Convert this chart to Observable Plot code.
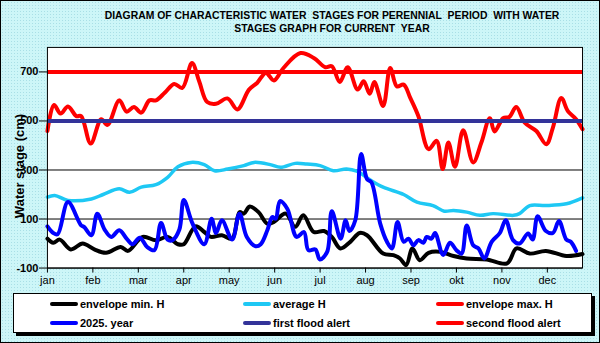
<!DOCTYPE html>
<html>
<head>
<meta charset="utf-8">
<script src="https://cdn.jsdelivr.net/npm/d3@7"></script>
<script src="https://cdn.jsdelivr.net/npm/@observablehq/plot@0.6"></script>
<style>
  html, body { margin: 0; padding: 0; }
  body { width: 600px; height: 343px; overflow: hidden; }
  #wrap {
    position: relative; width: 600px; height: 343px; box-sizing: border-box;
    border: 1px solid #000;
    background-color: #cdf6f8;
    background-image: radial-gradient(#a9dfe6 0.6px, transparent 0.8px);
    background-size: 3px 3px;
    font-family: "Liberation Sans", Arial, sans-serif;
    overflow: hidden;
  }
  #chart { position: absolute; left: -1px; top: -1px; }
  .title {
    position: absolute; left: 31px; width: 600px; text-align: center;
    font-weight: bold; font-size: 10.4px; white-space: pre; color: #000;
  }
  #ylabel {
    position: absolute; left: 18px; top: 165px; transform: translate(-50%, -50%) rotate(-90deg);
    font-weight: bold; font-size: 13px; white-space: nowrap;
  }
  #legend {
    position: absolute; left: 12px; top: 292px; width: 579px; height: 40px; box-sizing: border-box;
    background: #fff; border: 1px solid #000; box-shadow: 3px 3px 0 #000;
  }
  .item { position: absolute; display: flex; align-items: center; font-size: 11px; font-weight: bold; white-space: nowrap; }
  .sw { width: 28px; height: 4px; border-radius: 2px; margin-right: 2px; }
</style>
</head>
<body>
<div id="wrap">
  <div id="chart"></div>
  <div class="title" style="top:9px">DIAGRAM OF CHARACTERISTIC WATER  STAGES FOR PERENNIAL  PERIOD  WITH WATER</div>
  <div class="title" style="top:22px">STAGES GRAPH FOR CURRENT  YEAR</div>
  <div id="ylabel">Water stage (cm)</div>
  <div id="legend"></div>
</div>
<script>
// ---- data (day of year, water stage in cm) ----
const months = ["jan","feb","mar","apr","may","jun","jul","aug","sep","okt","nov","dec"];
const monthTickDays = [0,31,62,93,124,155,186,217,248,279,310,341];
const yTicks = [-100,100,300,500,700];
const firstFloodAlert = 500;
const secondFloodAlert = 700;

const maxDays = [0,4.5,9,14,19.7,23,29.5,36.7,41,49,54,59,64,69.6,74,80,86.5,92,98.6,103.5,109,115,122.8,129.6,137.5,143,149,154.5,161,172.6,181.7,189.6,194,199.4,204.8,211.6,215.7,219.8,223,229,233.8,238.4,243,247.5,253,260,265.5,269.6,273.5,278,283.6,290.4,296,301.7,305,310.8,315,319.8,325.6,333.5,340.3,344.8,350.5,355,360.6,365];
const maxVals = [459,565,530,559,520,520,408,507,484,584,538,557,534,584,584,615,651,635,736,662,577,570,592,547,628,655,696,665,716,777,757,719,723,659,719,628,662,611,659,561,716,641,648,594,520,385,419,304,412,313,462,331,412,511,457,511,516,557,493,459,405,473,594,540,507,466];

const avgDays = [0,5,14,30,38,49,56,64,74,82,89,98,107,114,123,134,141,152,159,169,177,186,195,204,211,220,229,243,252,263,270.7,277,286,295,304,318,322,329,340,354,365];
const avgVals = [189,196,176,182,200,223,209,230,240,270,313,331,322,297,304,318,331,322,311,327,324,318,297,304,295,260,230,200,169,155,132,135,128,115,122,115,122,155,155,162,186];

const minDays = [0,4,8.4,16,24,32,40,50,55,65,74,82,89,93,101,107,111.5,119,126,131,134,138,144,150,154.5,162.5,169,174.5,181.7,188.6,194,199.8,206.6,213,218,229,236,240.5,244.7,249,254,260,268,277,286,299.6,313.5,320,329,340,354,365];
const minVals = [20,3,16,-24,0,-24,-38,-14,-30,27,13,27,-3,-3,70,47,27,34,20,128,122,151,128,81,88,122,68,115,47,51,27,-20,7,43,34,-41,-47,-61,-88,-20,-68,-38,-34,-51,-61,-65,-81,-20,-41,-30,-51,-43];

const yearDays = [0,4,7,14,23,25,30,34,39,43.5,49,54,58,63,68,73,77.5,82,85.4,90,93,99,107,112,115,119,126,131,136,142,145.5,150,153.4,155.7,158.6,163.6,170,175,178,182.8,185.8,190.8,194,200,203.4,206,210,214,218,221,227,231.6,235,238.8,243,246.3,249.6,253,256.5,258.7,262,264.4,270,274.6,279,282.5,286,290.4,294,298,303,308.6,312.6,317.6,322,327.9,331,334.4,340,344.8,348.9,354,357,360.6];
const yearVals = [70,43,38,169,74,68,34,122,57,27,54,20,-3,24,-14,-27,84,16,14,57,178,81,-3,101,43,95,16,122,27,-11,-3,54,108,101,173,142,27,47,-27,-24,-65,-34,132,20,95,51,95,365,263,250,81,7,-20,88,7,20,-7,14,3,27,20,43,-47,3,-27,-41,74,-7,-20,-61,7,43,95,14,0,41,16,111,51,43,92,16,7,-30];

const toRows = (days, vals) => days.map((d, i) => ({day: d, v: vals[i]}));
const series = [
  {name: "envelope min. H", color: "#000000", rows: toRows(minDays, minVals), w: 4},
  {name: "average H", color: "#1ec8f4", rows: toRows(avgDays, avgVals), w: 3.5},
  {name: "envelope max. H", color: "#ff0000", rows: toRows(maxDays, maxVals), w: 4},
  {name: "2025. year", color: "#0000ff", rows: toRows(yearDays, yearVals), w: 4}
];

const chart = Plot.plot({
  width: 600, height: 343,
  marginLeft: 47, marginRight: 17, marginTop: 47, marginBottom: 75,
  style: {background: "transparent", fontFamily: "Liberation Sans, Arial, sans-serif", fontSize: "11px", color: "#000", overflow: "visible"},
  x: {domain: [0, 365]},
  y: {domain: [-100, 800]},
  marks: [
    Plot.frame({fill: "white", stroke: null}),
    Plot.ruleY(yTicks, {stroke: "#000", strokeWidth: 1}),
    ...series.map(s => Plot.line(s.rows, {x: "day", y: "v", stroke: s.color, strokeWidth: s.w, curve: "catmull-rom", strokeLinejoin: "round", strokeLinecap: "round"})),
    Plot.ruleY([firstFloodAlert], {stroke: "#333399", strokeWidth: 4}),
    Plot.ruleY([secondFloodAlert], {stroke: "#ff0000", strokeWidth: 4}),
    Plot.frame({stroke: "#000", strokeWidth: 1}),
    Plot.axisY({ticks: yTicks, tickSize: 8, tickPadding: 1, fontWeight: "bold", fontSize: 11, label: null, tickFormat: d => String(d)}),
    Plot.axisX({ticks: monthTickDays, tickSize: 5, tickPadding: 3, fontSize: 11, label: null, tickFormat: (d, i) => months[i]})
  ]
});
document.getElementById("chart").appendChild(chart);

// legend
const legendItems = [
  {name: "envelope min. H", color: "#000000"},
  {name: "average H", color: "#1ec8f4"},
  {name: "envelope max. H", color: "#ff0000"},
  {name: "2025. year", color: "#0000ff"},
  {name: "first flood alert", color: "#333399"},
  {name: "second flood alert", color: "#ff0000"}
];
const colX = [36, 229, 422];
const rowY = [11, 30];
const leg = document.getElementById("legend");
legendItems.forEach((it, i) => {
  const el = document.createElement("div");
  el.className = "item";
  el.style.left = colX[i % 3] + "px";
  el.style.top = (rowY[Math.floor(i / 3)] - 7) + "px";
  el.innerHTML = `<span class="sw" style="background:${it.color}"></span><span>${it.name}</span>`;
  leg.appendChild(el);
});
</script>
</body>
</html>
